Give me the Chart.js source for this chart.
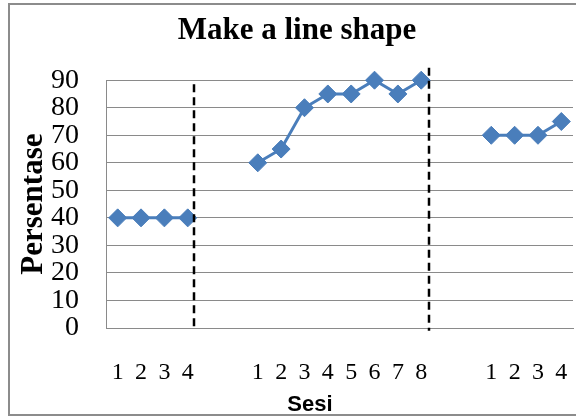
<!DOCTYPE html>
<html>
<head>
<meta charset="utf-8">
<script src="https://cdn.jsdelivr.net/npm/chart.js@4"></script>
<style>
  html, body { margin: 0; padding: 0; background: #ffffff; }
  #wrap { width: 576px; height: 417px; }
</style>
</head>
<body>
<div id="wrap"><canvas id="c" width="576" height="417"></canvas></div>
<script>
// ---- data ----
const phaseA = [40, 40, 40, 40];
const phaseB = [60, 65, 80, 85, 85, 90, 85, 90];
const phaseC = [70, 70, 70, 75];
const labelsA = ['1', '2', '3', '4'];
const labelsB = ['1', '2', '3', '4', '5', '6', '7', '8'];
const labelsC = ['1', '2', '3', '4'];
const gapSlots = 2;               // empty category slots between phases
const yTicks = [0, 10, 20, 30, 40, 50, 60, 70, 80, 90];
const phaseLinePos = [3.25, 13.35]; // category-axis positions of phase-change lines
const phaseLineTop = [88.5, 94.5];  // value where each dashed line starts
const phaseLineBottom = -1;
const titleText = 'Make a line shape';
const xTitleText = 'Sesi';
const yTitleText = 'Persentase';

// build category labels and the single series with gaps
const gapLabels = Array(gapSlots).fill('');
const gapVals = Array(gapSlots).fill(null);
const labels = [...labelsA, ...gapLabels, ...labelsB, ...gapLabels, ...labelsC];
const values = [...phaseA, ...gapVals, ...phaseB, ...gapVals, ...phaseC];

const BLUE = '#4a7ebb';
const GRID = '#8a8a8a';
const RIGHT_GAP = 3;

const framePlugin = {
  id: 'frame',
  beforeDraw(chart) {
    const ctx = chart.ctx;
    ctx.save();
    ctx.fillStyle = '#ffffff';
    ctx.fillRect(0, 0, chart.width, chart.height);
    ctx.strokeStyle = '#8c8c8c';
    ctx.lineWidth = 2;
    ctx.strokeRect(9, 4, chart.width + 20, 411);
    ctx.restore();
  }
};

// stretch the plot area to the right edge (Chart.js reserves extra room there)
const stretchPlugin = {
  id: 'stretch',
  afterLayout(chart) {
    const ca = chart.chartArea;
    const xs = chart.scales.x;
    const d = (chart.width - RIGHT_GAP) - ca.right;
    if (d > 0) {
      ca.right += d;
      ca.width += d;
      xs.right += d;
      xs.width += d;
      xs.configure();
    }
  }
};

const phaseLinesPlugin = {
  id: 'phaseLines',
  afterDatasetsDraw(chart) {
    const ctx = chart.ctx;
    const xs = chart.scales.x, ys = chart.scales.y;
    ctx.save();
    ctx.strokeStyle = '#000000';
    ctx.lineWidth = 2.5;
    ctx.setLineDash([8, 5]);
    phaseLinePos.forEach((p, i) => {
      const x = Math.round(xs.getPixelForValue(p));
      ctx.beginPath();
      ctx.moveTo(x, ys.getPixelForValue(phaseLineTop[i]));
      ctx.lineTo(x, ys.getPixelForValue(phaseLineBottom));
      ctx.stroke();
    });
    ctx.restore();
  }
};

const xTitlePlugin = {
  id: 'xTitle',
  afterDraw(chart) {
    const ctx = chart.ctx;
    ctx.save();
    ctx.fillStyle = '#000000';
    ctx.font = 'bold 22px "Liberation Sans", Arial, sans-serif';
    ctx.textAlign = 'center';
    ctx.textBaseline = 'middle';
    ctx.fillText(xTitleText, 310, 405);
    ctx.restore();
  }
};

new Chart(document.getElementById('c'), {
  type: 'line',
  data: {
    labels: labels,
    datasets: [{
      data: values,
      borderColor: BLUE,
      backgroundColor: BLUE,
      borderWidth: 3,
      pointStyle: 'rectRot',
      pointRadius: 9,
      pointHoverRadius: 9,
      pointBackgroundColor: BLUE,
      pointBorderColor: BLUE,
      pointBorderWidth: 1,
      spanGaps: false,
      clip: false,
      tension: 0
    }]
  },
  options: {
    responsive: false,
    animation: false,
    devicePixelRatio: 1,
    layout: { padding: { left: 18, right: 0, top: 0, bottom: 0 } },
    plugins: {
      legend: { display: false },
      tooltip: { enabled: false },
      title: {
        display: true,
        text: titleText,
        color: '#000000',
        font: { family: '"Liberation Serif", "Times New Roman", serif', size: 31, weight: 'bold' },
        padding: { top: 12, bottom: 31 }
      }
    },
    scales: {
      x: {
        type: 'category',
        offset: true,
        grid: { display: false, drawTicks: false },
        border: { display: true, color: GRID, width: 1 },
        ticks: {
          autoSkip: false,
          maxRotation: 0,
          minRotation: 0,
          color: '#000000',
          padding: 30,
          font: { family: '"Liberation Serif", "Times New Roman", serif', size: 24 }
        },
        afterFit(scale) {
          scale.height = 89;
          scale.paddingLeft = 0;
          scale.paddingRight = 0;
        }
      },
      y: {
        min: 0,
        max: 90,
        afterBuildTicks(scale) { scale.ticks = yTicks.map(v => ({ value: v })); },
        grid: { color: GRID, lineWidth: 1, drawTicks: false },
        border: { display: true, color: GRID, width: 1 },
        ticks: {
          autoSkip: false,
          stepSize: 10,
          color: '#000000',
          padding: 27,
          font: { family: '"Liberation Serif", "Times New Roman", serif', size: 28 }
        },
        title: {
          display: true,
          text: yTitleText,
          color: '#000000',
          font: { family: '"Liberation Serif", "Times New Roman", serif', size: 31, weight: 'bold', lineHeight: 1 },
          padding: { top: 0, bottom: 0 }
        },
        afterFit(scale) { scale.width = 88; }
      }
    }
  },
  plugins: [framePlugin, stretchPlugin, phaseLinesPlugin, xTitlePlugin]
});
</script>
</body>
</html>
